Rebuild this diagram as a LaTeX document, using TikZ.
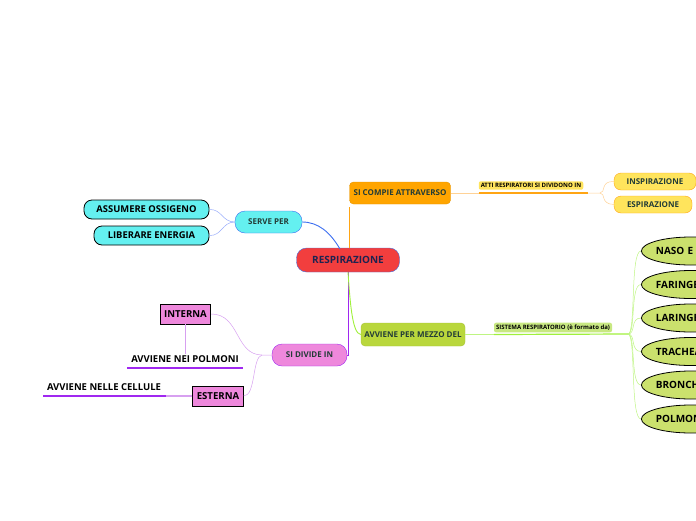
\documentclass[tikz,border=0pt]{standalone}
\usepackage{fontspec}
\setmainfont{Open Sans}
\usetikzlibrary{positioning,shapes.geometric}
\definecolor{rootred}{RGB}{242,62,62}
\definecolor{rootblue}{RGB}{70,110,220}
\definecolor{navytxt}{RGB}{30,35,80}
\definecolor{darktxt}{RGB}{35,60,55}
\definecolor{orbox}{RGB}{255,165,0}
\definecolor{orline}{RGB}{255,165,20}
\definecolor{yelbox}{RGB}{255,228,92}
\definecolor{yelline}{RGB}{255,210,150}
\definecolor{cyanbox}{RGB}{100,240,240}
\definecolor{cyanline}{RGB}{60,110,240}
\definecolor{cyanthin}{RGB}{150,170,250}
\definecolor{pinkbox}{RGB}{238,136,220}
\definecolor{purpline}{RGB}{160,40,240}
\definecolor{pinkline}{RGB}{215,160,240}
\definecolor{greenbox}{RGB}{185,215,60}
\definecolor{greenlbl}{RGB}{200,232,130}
\definecolor{limeline}{RGB}{160,240,60}
\definecolor{limethin}{RGB}{190,245,130}
\tikzset{
  root/.style={draw=rootblue, fill=rootred, rounded corners=10pt, minimum width=103pt,
               minimum height=24pt, font=\fontsize{10}{11}\selectfont\bfseries, text=navytxt},
  topic/.style={rounded corners=4pt, minimum height=22pt, inner sep=3pt,
                font=\fontsize{8}{9}\selectfont\bfseries, text=darktxt},
  orangetopic/.style={topic, fill=orbox, draw=orbox!90!black, minimum width=101pt},
  greentopic/.style={topic, fill=greenbox, draw=greenbox!90!black, minimum width=104pt, minimum height=23pt},
  cyantopic/.style={topic, fill=cyanbox, draw=cyanline, rounded corners=10pt, minimum width=67pt},
  pinktopic/.style={topic, fill=pinkbox, draw=purpline, rounded corners=10pt, minimum width=75pt},
  lbl/.style={inner sep=2pt, rounded corners=2pt, font=\fontsize{6}{7}\selectfont\bfseries, text=black},
  yelpill/.style={draw=orline, fill=yelbox, rounded corners=7pt, minimum height=17pt,
                  font=\fontsize{8}{9}\selectfont\bfseries, text=darktxt},
  cyanleaf/.style={draw=black, thick, fill=cyanbox, rounded corners=8pt, minimum height=19pt,
                   font=\fontsize{9.4}{10}\selectfont\bfseries, text=black},
  pinkleaf/.style={draw=black, thick, fill=pinkbox, minimum height=20pt, inner sep=4pt,
                   font=\fontsize{9.6}{10}\selectfont\bfseries, text=black},
  plain/.style={font=\fontsize{9.5}{10}\selectfont\bfseries, text=black, inner sep=1pt},
  organ/.style={ellipse, draw=black, thick, fill=greenbox!75!white, inner sep=0pt,
                minimum height=28pt, text width=70pt, align=left,
                font=\fontsize{10}{11}\selectfont\bfseries, text=black},
  link/.style={line width=0.9pt},
  thinlink/.style={line width=0.5pt}
}
\begin{document}
\begin{tikzpicture}[x=1pt,y=-1pt]
\useasboundingbox (0,0) rectangle (696,520);
\clip (0,0) rectangle (696,520);

% central topic
\node[root] (resp) at (348,260) {RESPIRAZIONE};

% upper branch
\node[orangetopic] (compie) at (400,193) {SI COMPIE ATTRAVERSO};
\node[lbl, fill=yelbox] (atti) at (531,185.5) {ATTI RESPIRATORI SI DIVIDONO IN};
\node[yelpill, minimum width=82pt] (insp) at (655,181.5) {INSPIRAZIONE};
\node[yelpill, minimum width=78pt] (esp) at (653,204.5) {ESPIRAZIONE};
\coordinate (attiend) at (588,193);
\draw[link, orline] (resp.north -| compie.west) -- ([yshift=-3pt]compie.south west);
\draw[link, yelline] (compie.east) -- (compie.east -| atti.west);
\draw[line width=1.2pt, orline] (compie.east -| atti.west) -- (attiend);
\draw[thinlink, yelline] (attiend) -- (600,193) .. controls (606,193) and (600,181) .. (insp.west);
\draw[thinlink, yelline] (600,193) .. controls (606,193) and (600,204) .. (esp.west);

% serve per
\node[cyantopic] (serve) at (268.5,222) {SERVE PER};
\node[cyanleaf, minimum width=125pt] (assum) at (146.5,209.5) {ASSUMERE OSSIGENO};
\node[cyanleaf, minimum width=115pt] (liber) at (151.5,235.5) {LIBERARE ENERGIA};
\draw[link, cyanline] (340,249) .. controls (330,232) and (318,222) .. (serve.east);
\draw[thinlink, cyanthin] (serve.west) .. controls (222,222) and (222,209) .. (assum.east);
\draw[thinlink, cyanthin] (serve.west) .. controls (222,222) and (222,236) .. (liber.east);

% si divide in
\node[pinktopic] (divide) at (309.5,355) {SI DIVIDE IN};
\node[pinkleaf] (interna) at (185.5,314) {INTERNA};
\node[pinkleaf] (esterna) at (218,396) {ESTERNA};
\node[plain] (polmoni) at (185,359) {AVVIENE NEI POLMONI};
\node[plain] (cellule) at (104,387) {AVVIENE NELLE CELLULE};
\coordinate (polL) at (127,368);
\coordinate (polR) at (243,368);
\coordinate (celL) at (43,396);
\coordinate (celM) at (166,396);
\draw[link, purpline] (resp.south) -- (resp.south |- divide.east) -- (divide.east);
\draw[thinlink, pinkline] (divide.west) -- (262,355) .. controls (235,355) and (240,314) .. (interna.east);
\draw[thinlink, pinkline] (262,355) .. controls (252,357) and (256,396) .. (esterna.east);
\draw[thinlink, pinkline] (interna.south) -- (interna.south |- polmoni.north);
\draw[line width=1.4pt, purpline] (polL) -- (polR);
\draw[line width=1.4pt, pinkline] (esterna.west) -- (celM);
\draw[line width=1.4pt, purpline] (celM) -- (celL);

% avviene per mezzo del
\node[greentopic] (mezzo) at (413,334.5) {AVVIENE PER MEZZO DEL};
\node[lbl, fill=greenlbl] (sistema) at (553,327.5) {SISTEMA RESPIRATORIO (è formato da)};
\coordinate (sisend) at (628,334);
\draw[link, limeline] (resp.south) .. controls (350,300) and (352,334) .. (mezzo.west);
\draw[link, limethin] (mezzo.east) -- (mezzo.east -| sistema.west);
\draw[line width=1.2pt, limeline] (mezzo.east -| sistema.west) -- (sisend);

\foreach \organ/\oy [count=\i] in {NASO E/251, FARINGE/284.5, LARINGE/318, TRACHEA/351.5, BRONCHI/385, POLMONI/419}{
  \node[organ, anchor=west] (org\i) at (641,\oy) {\organ};
  \draw[thinlink, limethin] (sisend) .. controls (636,334) and (630,\oy) .. (org\i.west);
}
\end{tikzpicture}
\end{document}
